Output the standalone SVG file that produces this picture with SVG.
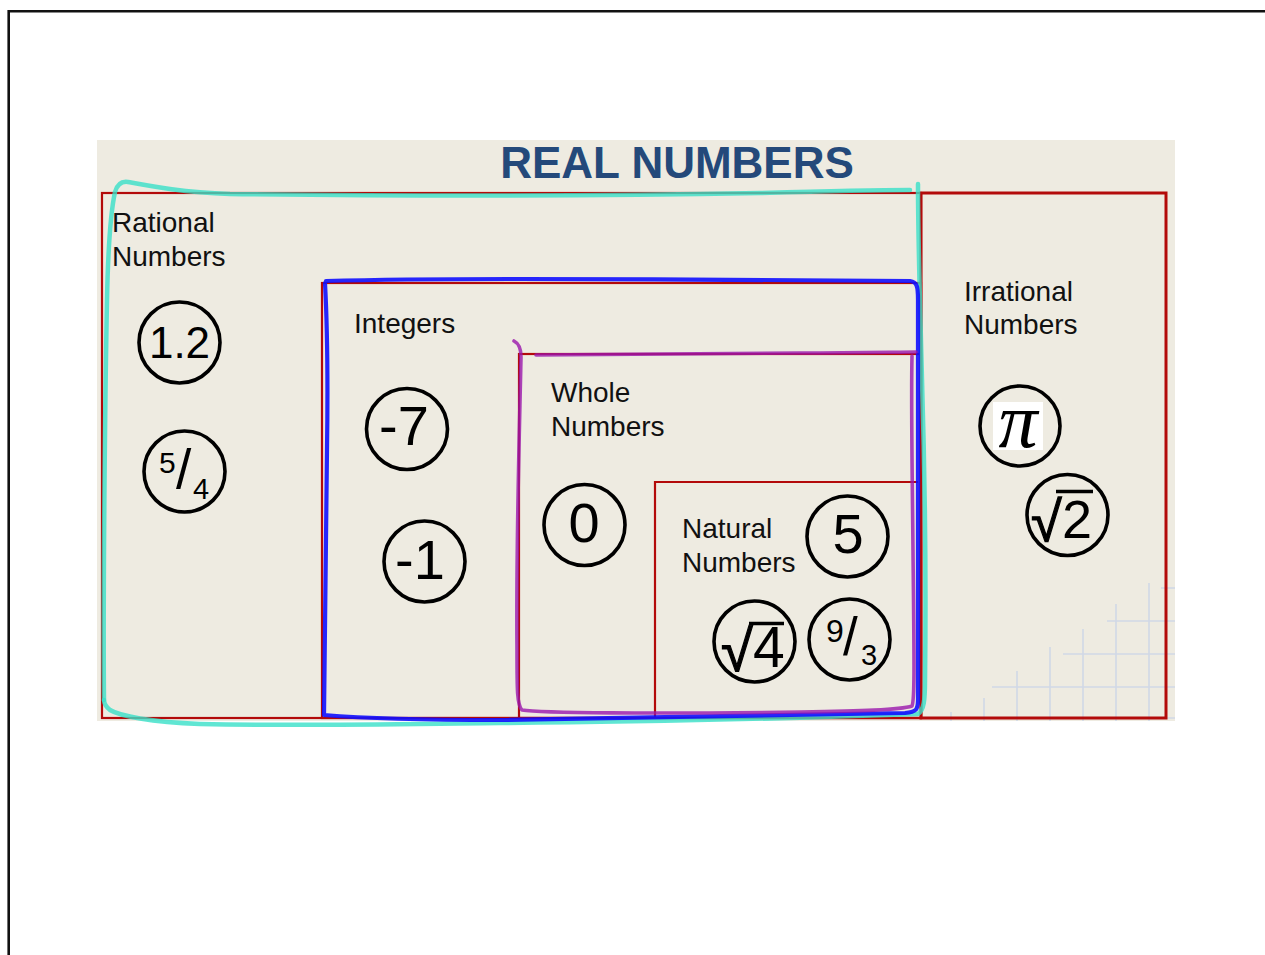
<svg xmlns="http://www.w3.org/2000/svg" width="1265" height="955" viewBox="0 0 1265 955">
  <style>
    .frame { fill: none; stroke: #111; stroke-width: 2.6; }
    .panel { fill: #eeebe1; }
    .set { fill: none; stroke: #b30a0a; stroke-width: 2.2; }
    .grid line { stroke: #d0d9e6; stroke-width: 1.6; }
    .title { font-family: "Liberation Sans", Arial, sans-serif; font-weight: bold; font-size: 44px; fill: #24497a; }
    .lbl { font-family: "Liberation Sans", Arial, sans-serif; font-size: 28px; fill: #111; }
    .ring { fill: none; stroke: #000; stroke-width: 3.6; }
    .num { font-family: "Liberation Sans", Arial, sans-serif; fill: #000; text-anchor: middle; }
    .frac { font-family: "Liberation Sans", Arial, sans-serif; fill: #000; }
    .root { stroke: #000; stroke-width: 1.2; }
    .bar { stroke: #000; stroke-width: 3.6; }
    .ink { fill: none; stroke-linecap: round; stroke-linejoin: round; }
    .cyan { stroke: #38e0c8; stroke-width: 4.5; stroke-opacity: 0.8; }
    .blue { stroke: #1010ff; stroke-width: 4.2; stroke-opacity: 0.9; }
    .purple { stroke: #9a16ac; stroke-width: 3.6; stroke-opacity: 0.8; }
  </style>

  <!-- page -->
  <rect x="0" y="0" width="1265" height="955" fill="#ffffff"/>
  <path class="frame" d="M8.7,955 V11.3 H1265"/>

  <!-- slide panel -->
  <rect class="panel" x="97" y="140" width="1078" height="581"/>

  <!-- background grid, lower right -->
  <g class="grid">
    <line x1="951" y1="712" x2="951" y2="721"/>
    <line x1="984" y1="698" x2="984" y2="721"/>
    <line x1="1017" y1="671" x2="1017" y2="721"/>
    <line x1="1050" y1="647" x2="1050" y2="721"/>
    <line x1="1083" y1="629" x2="1083" y2="721"/>
    <line x1="1116" y1="604" x2="1116" y2="721"/>
    <line x1="1149" y1="583" x2="1149" y2="721"/>
    <line x1="1161" y1="588" x2="1175" y2="588"/>
    <line x1="1107" y1="621" x2="1175" y2="621"/>
    <line x1="1063" y1="654" x2="1175" y2="654"/>
    <line x1="992" y1="687" x2="1175" y2="687"/>
    <line x1="940" y1="718" x2="1175" y2="718"/>
  </g>

  <text class="title" x="677" y="178" text-anchor="middle">REAL NUMBERS</text>

  <!-- number sets -->
  <g id="rational">
    <rect class="set" x="102" y="193" width="819" height="525"/>
    <text class="lbl" x="112" y="232">Rational</text>
    <text class="lbl" x="112" y="266">Numbers</text>
  </g>
  <g id="irrational">
    <rect class="set" x="921" y="193" width="245" height="525" style="stroke-width:3"/>
    <text class="lbl" x="964" y="301">Irrational</text>
    <text class="lbl" x="964" y="334">Numbers</text>
  </g>
  <g id="integers">
    <rect class="set" x="322" y="283" width="599" height="435"/>
    <text class="lbl" x="354" y="333">Integers</text>
  </g>
  <g id="whole">
    <rect class="set" x="519" y="354" width="402" height="364"/>
    <text class="lbl" x="551" y="402">Whole</text>
    <text class="lbl" x="551" y="436">Numbers</text>
  </g>
  <g id="natural">
    <path class="set" d="M918,482 H655 V718"/>
    <text class="lbl" x="682" y="538">Natural</text>
    <text class="lbl" x="682" y="572">Numbers</text>
  </g>

  <!-- example numbers -->
  <g id="n-1-2">
    <circle class="ring" cx="179.5" cy="342.5" r="40.5"/>
    <text class="num" x="179.5" y="358" font-size="44">1.2</text>
  </g>
  <g id="n-5-4">
    <circle class="ring" cx="184.5" cy="471.5" r="40.5"/>
    <text class="frac"><tspan x="159" y="473" font-size="30">5</tspan><tspan x="176" y="488" font-size="55">/</tspan><tspan x="193" y="499" font-size="29">4</tspan></text>
  </g>
  <g id="n-minus-7">
    <circle class="ring" cx="407" cy="429" r="40.5"/>
    <text class="num" x="404" y="445" font-size="56">-7</text>
  </g>
  <g id="n-minus-1">
    <circle class="ring" cx="424.5" cy="561.5" r="40.5"/>
    <text class="num" x="420" y="579" font-size="56">-1</text>
  </g>
  <g id="n-0">
    <circle class="ring" cx="584.5" cy="525" r="40.5"/>
    <text class="num" x="584" y="542" font-size="56">0</text>
  </g>
  <g id="n-5">
    <circle class="ring" cx="847.5" cy="536.5" r="40.5"/>
    <text class="num" x="848" y="553" font-size="56">5</text>
  </g>
  <g id="n-sqrt-4">
    <circle class="ring" cx="754.5" cy="641.5" r="40.5"/>
    <line class="bar" x1="749" y1="623.5" x2="784" y2="623.5"/>
    <text class="frac"><tspan class="root" x="721" y="671" font-size="58">√</tspan><tspan x="753" y="667" font-size="57">4</tspan></text>
  </g>
  <g id="n-9-3">
    <circle class="ring" cx="849.5" cy="639.5" r="40.5"/>
    <text class="frac"><tspan x="826" y="642" font-size="32">9</tspan><tspan x="843" y="655" font-size="53">/</tspan><tspan x="861" y="665" font-size="29">3</tspan></text>
  </g>
  <g id="n-pi">
    <circle class="ring" cx="1020" cy="426" r="40"/>
    <rect x="993" y="402" width="50" height="48" fill="#ffffff"/>
    <text x="1018" y="447" font-family="'Liberation Serif', 'Times New Roman', serif" font-style="italic" font-size="78" text-anchor="middle" fill="#000">π</text>
  </g>
  <g id="n-sqrt-2">
    <circle class="ring" cx="1067.5" cy="515" r="40.5"/>
    <line class="bar" x1="1056" y1="491.5" x2="1093" y2="491.5"/>
    <text class="frac"><tspan class="root" x="1031" y="541" font-size="56">√</tspan><tspan x="1062" y="538" font-size="54">2</tspan></text>
  </g>

  <!-- hand-drawn highlight loops -->
  <g id="highlights">
    <path class="ink cyan" d="M104,700 C103,600 105,400 107,300 C108,250 110,215 115,192 C117,185 121,181 128,182 C150,186 180,192 230,194 C400,196 600,196 760,193 C830,191 880,190 910,190"/>
    <path class="ink cyan" d="M918,184 C918,240 920,300 922,380 C925,480 926,600 925,680 C925,700 924,710 918,714 C800,718 650,722 500,723 C400,724 300,726 200,724 C150,722 120,716 110,710 C105,706 104,703 104,700"/>
    <path class="ink blue" d="M326,281 C400,279 450,279 520,279 C650,279 800,280 910,281 C917,282 918,286 918,300 C918,450 917,600 918,700 C918,710 916,712 905,713 C800,714 650,717 500,720 C420,720 360,718 324,715 C324,650 326,550 327,450 C328,380 327,320 325,283"/>
    <path class="ink purple" d="M514,341 C518,343 521,348 521,357 C519,450 516,550 517,650 C517,690 517,705 522,710 C540,713 650,714 800,712 C860,711 900,710 912,706 C915,700 914,650 913,550 C912,450 911,400 912,356 M536,355 C600,354 700,354 800,353 C860,353 900,352 916,352"/>
  </g>
</svg>
